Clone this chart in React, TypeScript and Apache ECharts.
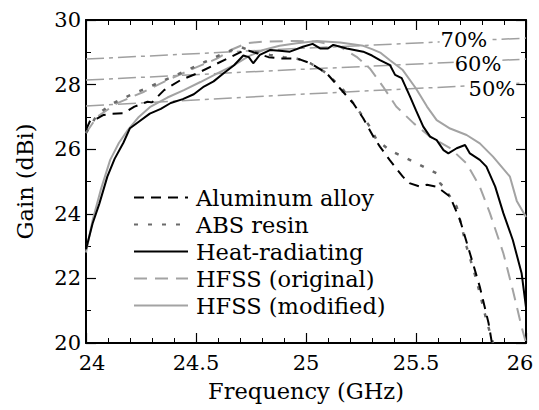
import React, { useEffect, useRef } from "react";
import * as echarts from "echarts";

const FONT = "DejaVu Serif";

const aluminum: [number, number][] = [
  [24.0, 26.6], [24.02, 26.9], [24.05, 26.95], [24.08, 27.06], [24.12, 27.1], [24.17, 27.11],
  [24.22, 27.32], [24.28, 27.47], [24.3, 27.45], [24.355, 27.83], [24.43, 28.14], [24.506, 28.35],
  [24.58, 28.6], [24.66, 28.86], [24.7, 29.0], [24.74, 29.05], [24.776, 28.97], [24.83, 28.85],
  [24.88, 28.81], [24.96, 28.81], [25.02, 28.66], [25.094, 28.35], [25.155, 27.88], [25.215, 27.42],
  [25.26, 26.96], [25.306, 26.39], [25.336, 26.08], [25.38, 25.67], [25.44, 25.15], [25.47, 24.95],
  [25.518, 24.84], [25.55, 24.9], [25.594, 24.84], [25.655, 24.53], [25.7, 23.81], [25.745, 22.78],
  [25.79, 21.74], [25.83, 20.61], [25.845, 20.0],
];

const absResin: [number, number][] = [
  [24.0, 26.5], [24.05, 27.06], [24.11, 27.37], [24.16, 27.55], [24.22, 27.73], [24.325, 28.04],
  [24.445, 28.4], [24.54, 28.7], [24.627, 28.97], [24.7, 29.17], [24.76, 29.02], [24.836, 28.92],
  [24.9, 28.85], [24.96, 28.8], [25.02, 28.66], [25.094, 28.35], [25.17, 27.83], [25.215, 27.42],
  [25.26, 27.0], [25.29, 26.7], [25.32, 26.3], [25.38, 25.97], [25.44, 25.77], [25.518, 25.51],
  [25.594, 25.25], [25.61, 24.94], [25.625, 24.84], [25.685, 24.22], [25.73, 22.98], [25.775, 21.95],
  [25.82, 20.71], [25.85, 20.0],
];

const heatRadiating: [number, number][] = [
  [24.0, 22.9], [24.03, 23.7], [24.06, 24.3], [24.097, 25.15], [24.13, 25.7], [24.17, 26.2],
  [24.2, 26.65], [24.24, 26.85], [24.29, 27.1], [24.34, 27.25], [24.385, 27.43], [24.44, 27.55],
  [24.49, 27.7], [24.536, 27.94], [24.58, 28.1], [24.627, 28.36], [24.673, 28.6], [24.715, 28.9],
  [24.74, 28.85], [24.76, 28.66], [24.79, 28.92], [24.836, 29.07], [24.88, 29.05], [24.927, 29.02],
  [24.986, 29.17], [25.03, 29.26], [25.064, 29.12], [25.1, 29.12], [25.124, 29.23], [25.185, 29.12],
  [25.26, 29.02], [25.3, 28.9], [25.336, 28.76], [25.382, 28.6], [25.405, 28.3], [25.435, 28.2],
  [25.473, 27.63], [25.5, 27.2], [25.533, 26.7], [25.564, 26.39], [25.594, 26.28], [25.625, 25.97],
  [25.647, 25.87], [25.685, 26.03], [25.723, 26.13], [25.745, 25.87], [25.79, 25.67], [25.82, 25.46],
  [25.86, 24.84], [25.897, 24.02], [25.94, 23.19], [25.98, 22.16], [26.0, 21.1],
];

const hfssOriginal: [number, number][] = [
  [24.0, 26.5], [24.05, 27.0], [24.14, 27.42], [24.264, 27.78], [24.37, 28.14], [24.49, 28.5],
  [24.597, 28.81], [24.658, 29.07], [24.73, 29.28], [24.806, 29.33], [24.96, 29.35], [25.05, 29.33],
  [25.155, 29.17], [25.23, 28.86], [25.29, 28.5], [25.35, 27.94], [25.41, 27.32], [25.49, 26.8],
  [25.564, 26.39], [25.655, 26.03], [25.73, 25.56], [25.79, 24.84], [25.836, 24.02], [25.897, 22.78],
  [25.94, 21.64], [25.98, 20.5], [26.0, 20.0],
];

const hfssModified: [number, number][] = [
  [24.0, 22.8], [24.03, 23.8], [24.067, 24.74], [24.11, 25.67], [24.15, 26.2], [24.19, 26.59],
  [24.24, 27.0], [24.294, 27.32], [24.37, 27.6], [24.445, 27.83], [24.52, 28.08], [24.597, 28.35],
  [24.673, 28.6], [24.74, 28.88], [24.806, 29.07], [24.88, 29.2], [24.958, 29.28], [25.05, 29.35],
  [25.155, 29.3], [25.26, 29.2], [25.3, 29.1], [25.34, 28.98], [25.38, 28.76], [25.44, 28.45],
  [25.5, 27.88], [25.55, 27.32], [25.594, 26.9], [25.655, 26.64], [25.73, 26.44], [25.79, 26.18],
  [25.85, 25.77], [25.927, 25.15], [25.958, 24.4], [26.0, 23.9],
];

const eff70: [number, number][] = [[24.0, 28.79], [25.0, 29.13], [26.0, 29.44]];
const eff60: [number, number][] = [[24.0, 28.14], [25.0, 28.48], [26.0, 28.79]];
const eff50: [number, number][] = [[24.0, 27.34], [25.0, 27.71], [26.0, 28.05]];

const effLabels = ["70%", "60%", "50%"];
const effLabelPos: [number, number][] = [[25.718, 29.38], [25.782, 28.64], [25.845, 27.86]];

const legendNames = ["Aluminum alloy", "ABS resin", "Heat-radiating", "HFSS (original)", "HFSS (modified)"];

export default function App() {
  const ref = useRef<HTMLDivElement>(null);
  useEffect(() => {
    if (!ref.current) return;
    const chart = echarts.init(ref.current, undefined, { renderer: "svg" });
    const effSeries = [eff70, eff60, eff50].map((d, i) => ({
      name: "eff" + effLabels[i],
      type: "line",
      data: d,
      symbol: "none",
      silent: true,
      lineStyle: { color: "#a0a0a0", width: 1.5, type: [18, 5, 4, 5] },
      markPoint: {
        symbol: "rect",
        symbolSize: 0,
        silent: true,
        data: [{ coord: effLabelPos[i] }],
        label: {
          show: true,
          position: "inside",
          formatter: effLabels[i],
          fontFamily: FONT,
          fontSize: 21,
          lineHeight: 19,
          color: "#000",
          backgroundColor: "#fff",
          padding: [0, 1, 0, 1],
        },
      },
      z: 1,
    }));
    const tickStyle = { fontFamily: FONT, fontSize: 21, color: "#000" };
    const nameStyle = { fontFamily: FONT, fontSize: 22.5, color: "#000" };
    chart.setOption({
      animation: false,
      textStyle: { fontFamily: FONT },
      grid: { left: 86, right: 13, top: 20, bottom: 67 },
      legend: {
        data: legendNames,
        orient: "vertical",
        left: 133,
        top: 184,
        padding: 0,
        itemGap: 0,
        itemWidth: 54,
        itemHeight: 10,
        itemStyle: { opacity: 0 },
        textStyle: { fontFamily: FONT, fontSize: 22.5, color: "#000", lineHeight: 27, padding: [0, 0, 0, 3] },
      },
      xAxis: [
        {
          type: "value",
          min: 24,
          max: 26,
          interval: 0.5,
          name: "Frequency (GHz)",
          nameLocation: "middle",
          nameGap: 36,
          nameTextStyle: nameStyle,
          axisLine: { lineStyle: { color: "#000", width: 2 } },
          axisTick: { inside: true, length: 10, lineStyle: { color: "#000", width: 1.2 } },
          minorTick: { show: true, splitNumber: 5, length: 5, lineStyle: { color: "#000", width: 1 } },
          splitLine: { show: false },
          axisLabel: {
            ...tickStyle,
            margin: 9,
            formatter: (v: number) => (v === 24 ? "{a|24}" : v === 26 ? "{b|26}" : String(v)),
            rich: {
              a: { ...tickStyle, padding: [0, 0, 0, 12] },
              b: { ...tickStyle, padding: [0, 12, 0, 0] },
            },
          },
        },
        {
          type: "value",
          min: 24,
          max: 26,
          interval: 0.5,
          position: "top",
          axisLine: { lineStyle: { color: "#000", width: 2 } },
          axisTick: { inside: true, length: 10, lineStyle: { color: "#000", width: 1.2 } },
          minorTick: { show: true, splitNumber: 5, length: 5, lineStyle: { color: "#000", width: 1 } },
          splitLine: { show: false },
          axisLabel: { show: false },
        },
      ],
      yAxis: [
        {
          type: "value",
          min: 20,
          max: 30,
          interval: 2,
          name: "Gain (dBi)",
          nameLocation: "middle",
          nameGap: 50,
          nameTextStyle: nameStyle,
          axisLine: { lineStyle: { color: "#000", width: 2 } },
          axisTick: { inside: true, length: 10, lineStyle: { color: "#000", width: 1.2 } },
          minorTick: { show: true, splitNumber: 2, length: 5, lineStyle: { color: "#000", width: 1 } },
          splitLine: { show: false },
          axisLabel: { ...tickStyle, margin: 5 },
        },
        {
          type: "value",
          min: 20,
          max: 30,
          interval: 2,
          position: "right",
          axisLine: { lineStyle: { color: "#000", width: 2 } },
          axisTick: { inside: true, length: 10, lineStyle: { color: "#000", width: 1.2 } },
          minorTick: { show: true, splitNumber: 2, length: 5, lineStyle: { color: "#000", width: 1 } },
          splitLine: { show: false },
          axisLabel: { show: false },
        },
      ],
      series: [
        ...effSeries,
        {
          name: "HFSS (modified)",
          type: "line",
          data: hfssModified,
          symbol: "none",
          lineStyle: { color: "#a3a3a3", width: 2, type: "solid" },
          itemStyle: { color: "#a3a3a3" },
          z: 2,
        },
        {
          name: "HFSS (original)",
          type: "line",
          data: hfssOriginal,
          symbol: "none",
          lineStyle: { color: "#a3a3a3", width: 2, type: [13, 8] },
          itemStyle: { color: "#a3a3a3" },
          z: 2,
        },
        {
          name: "ABS resin",
          type: "line",
          data: absResin,
          symbol: "none",
          lineStyle: { color: "#6a6a6a", width: 2.5, type: [4, 10] },
          itemStyle: { color: "#6a6a6a" },
          z: 3,
        },
        {
          name: "Aluminum alloy",
          type: "line",
          data: aluminum,
          symbol: "none",
          lineStyle: { color: "#000", width: 2, type: [10, 7] },
          itemStyle: { color: "#000" },
          z: 3,
        },
        {
          name: "Heat-radiating",
          type: "line",
          data: heatRadiating,
          symbol: "none",
          lineStyle: { color: "#000", width: 2, type: "solid" },
          itemStyle: { color: "#000" },
          z: 4,
        },
      ],
    });
    return () => chart.dispose();
  }, []);
  return <div ref={ref} style={{ width: 539, height: 410, position: "absolute", left: 0, top: 0 }} />;
}
